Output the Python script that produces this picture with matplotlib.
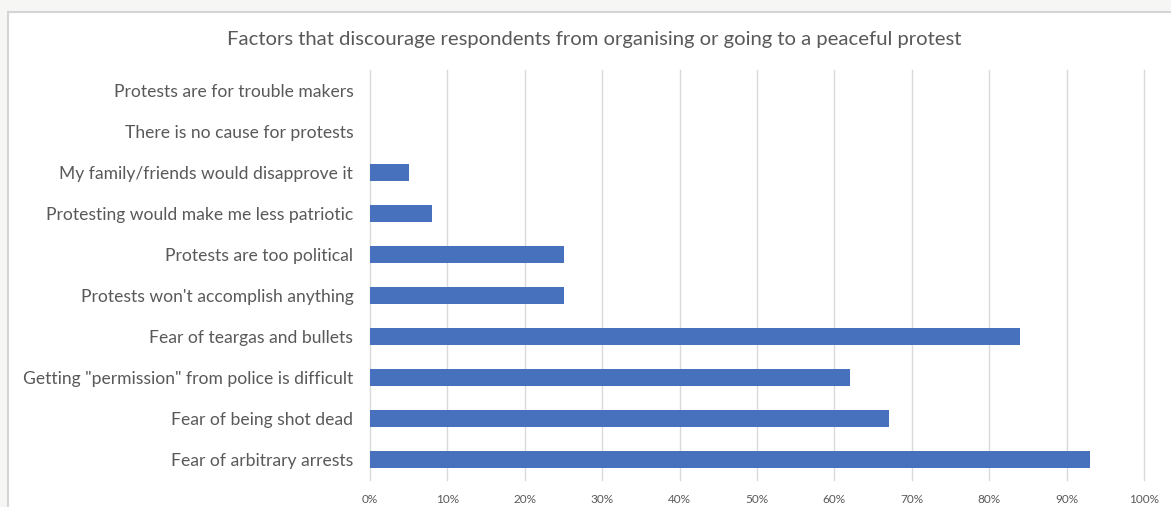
import numpy as np
import matplotlib.pyplot as plt
from matplotlib.patches import Rectangle
from matplotlib.ticker import PercentFormatter

# Survey responses, bottom to top as drawn
factors = [
    'Fear of arbitrary arrests',
    'Fear of being shot dead',
    'Getting "permission" from police is difficult',
    'Fear of teargas and bullets',
    "Protests won't accomplish anything",
    'Protests are too political',
    'Protesting would make me less patriotic',
    'My family/friends would disapprove it',
    'There is no cause for protests',
    'Protests are for trouble makers',
]
shares = [93, 67, 62, 84, 25, 25, 8, 5, 0, 0]
x_ticks = list(range(0, 101, 10))

title = 'Factors that discourage respondents from organising or going to a peaceful protest'

plt.rcParams['font.family'] = ['Lato', 'DejaVu Sans']

W, H = 1171, 507
fig = plt.figure(figsize=(W / 100, H / 100), dpi=100)
fig.patch.set_facecolor('#f6f7f4')

# white chart box with a thin grey frame, kept behind the axes
box = Rectangle((8 / W, -0.05), 1.2, 1 - 12 / H + 0.05, transform=fig.transFigure,
                facecolor='white', edgecolor='#d4d4d4', linewidth=1.5, zorder=-10)
fig.patches.append(box)

ax = fig.add_axes([370 / W, 1 - 480 / H, (1144 - 370) / W, (480 - 70) / H])
ax.set_facecolor('none')

y = np.arange(len(factors))
ax.barh(y, shares, height=0.42, color='#4771bc', linewidth=0, zorder=3)

ax.set_xlim(0, 100)
ax.set_ylim(-0.5, len(factors) - 0.5)
ax.set_xticks(x_ticks)
ax.xaxis.set_major_formatter(PercentFormatter(decimals=0))
ax.set_yticks(y)
ax.set_yticklabels(factors)

ax.grid(axis='x', color='#d9d9d9', linewidth=1)
for gl in ax.get_xgridlines():
    gl.set_clip_on(False)
ax.set_axisbelow(True)
for s in ax.spines.values():
    s.set_visible(False)
ax.tick_params(axis='both', length=0)
ax.tick_params(axis='y', labelsize=12.6, labelcolor='#595959', pad=12)
ax.tick_params(axis='x', labelsize=8.5, labelcolor='#595959', pad=10)

fig.text(594 / W, 1 - 40 / H, title, ha='center', va='center', fontsize=14.6, color='#595959')

fig.savefig('out.png', dpi=100, facecolor=fig.get_facecolor())
